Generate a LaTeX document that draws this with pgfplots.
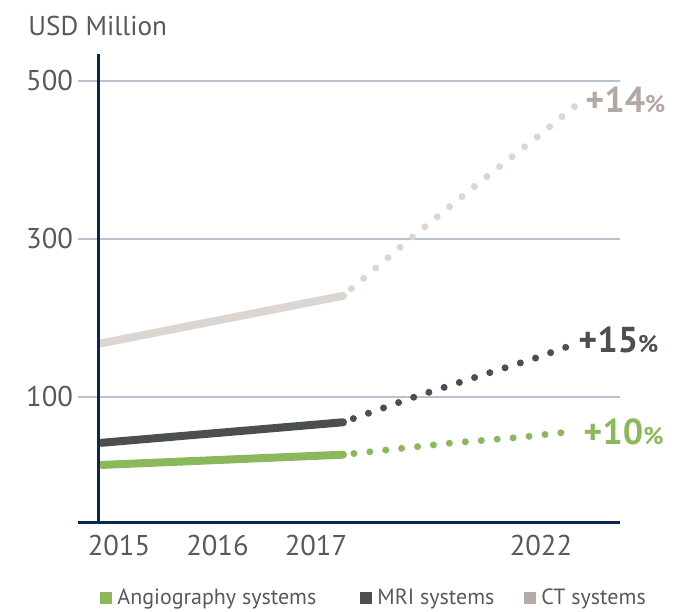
\documentclass[border=0pt]{standalone}
\usepackage{fontspec}
\setmainfont{PT Sans}
\usepackage{pgfplots}
\pgfplotsset{compat=1.18}
\definecolor{angio}{HTML}{8CB85C}
\definecolor{mri}{HTML}{4B4F51}
\definecolor{ctc}{HTML}{DCD6D3}
\definecolor{ctlab}{HTML}{B3A8A4}
\definecolor{ctsq}{HTML}{B5ACA7}
\definecolor{navy}{HTML}{0B2650}
\definecolor{gridc}{HTML}{B8C1CF}
\definecolor{txt}{HTML}{58595B}
\begin{document}
\begin{tikzpicture}
\begin{axis}[name=ax, scale only axis, width=271pt, height=234pt,
  xmin=-0.416, xmax=5.086, ymin=-58.2, ymax=534,
  axis line style={draw=none},
  major tick length=0pt,
  ytick={100,300,500}, ymajorgrids, grid style={color=gridc, line width=1pt},
  xtick={0,1,2,4.284}, xticklabels={2015,2016,2017,2022},
  tick label style={font=\fontsize{14.3}{16}\selectfont, text=txt},
  /pgf/number format/assume math mode=true,
  yticklabel style={xshift=1pt},
  xticklabel style={yshift=-3pt},
  clip=false,
  legend image code/.code={\fill[#1] (0pt,-3pt) rectangle (6pt,3pt);},
  legend columns=3,
  legend style={at={(0,0)}, anchor=west, xshift=11pt, yshift=-38pt,
    draw=none, fill=none, inner sep=0pt,
    font=\fontsize{11}{12}\selectfont, text=txt,
    nodes={inner sep=0pt},
    /tikz/every odd column/.append style={column sep=2.5pt},
    /tikz/column 2/.style={column sep=22pt},
    /tikz/column 4/.style={column sep=15pt}},
]
% CT systems
\addplot[ctc, line width=4pt, line cap=round, forget plot] coordinates {(-0.178,168) (2.274,228)};
\addplot[ctc, line width=3.5pt, line cap=round, dash pattern=on 0pt off 8pt, dash phase=2.5pt, forget plot]
  coordinates {(2.274,228) (2.954,300) (3.594,365) (4.244,429) (4.629,468)};
% MRI systems
\addplot[mri, line width=4pt, line cap=round, forget plot] coordinates {(-0.178,42) (2.274,68)};
\addplot[mri, line width=3.5pt, line cap=round, dash pattern=on 0pt off 8pt, dash phase=2.5pt, forget plot]
  coordinates {(2.274,68) (2.975,99) (3.594,124) (4.223,149) (4.538,163)};
% Angiography systems
\addplot[angio, line width=4pt, line cap=round, forget plot] coordinates {(-0.178,14) (2.274,27)};
\addplot[angio, line width=3.5pt, line cap=round, dash pattern=on 0pt off 8pt, dash phase=2.5pt, forget plot]
  coordinates {(2.274,27) (3.391,42) (4.071,49) (4.579,56)};

\addlegendimage{fill=angio, draw=none}
\addlegendentry{Angiography systems}
\addlegendimage{fill=mri, draw=none}
\addlegendentry{MRI systems}
\addlegendimage{fill=ctsq, draw=none}
\addlegendentry{CT systems}

% axis lines
\draw[navy, line width=1.5pt] (rel axis cs:0,0) -- (rel axis cs:1,0);
\draw[navy, line width=1.5pt] (axis cs:-0.203,-58.2) -- (axis cs:-0.203,534);

% growth labels
\node[anchor=west, inner sep=0pt, xshift=5pt, yshift=3pt, font=\bfseries\fontsize{18}{20}\selectfont, text=ctlab]
  at (axis cs:4.629,468) {+14{\fontsize{12}{12}\selectfont\%}};
\node[anchor=west, inner sep=0pt, xshift=6pt, yshift=3.5pt, font=\bfseries\fontsize{18}{20}\selectfont, text=mri]
  at (axis cs:4.538,163) {+15{\fontsize{12}{12}\selectfont\%}};
\node[anchor=west, inner sep=0pt, xshift=6.5pt, yshift=0pt, font=\bfseries\fontsize{18}{20}\selectfont, text=angio]
  at (axis cs:4.579,56) {+10{\fontsize{12}{12}\selectfont\%}};

% unit title
\node[anchor=base west, inner sep=0pt, xshift=-25pt, yshift=9pt, font=\fontsize{13.6}{16}\selectfont, text=txt]
  at (rel axis cs:0,1) {USD Million};
\end{axis}
\pgfresetboundingbox
\path[use as bounding box] ([shift={(-39pt,-44.5pt)}]ax.south west) rectangle ([shift={(29pt,27pt)}]ax.north east);
\end{tikzpicture}
\end{document}
